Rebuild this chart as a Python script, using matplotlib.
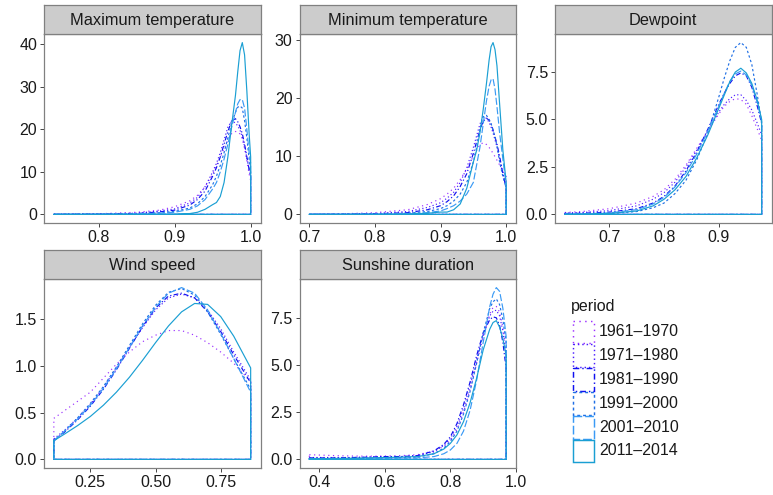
import matplotlib
matplotlib.use('Agg')
import matplotlib.pyplot as plt
from matplotlib.patches import Rectangle

plt.rcParams['font.family'] = ['Liberation Sans', 'DejaVu Sans']

# --- DATA (density curves) ---
periods = ['1961\u20131970', '1971\u20131980', '1981\u20131990',
           '1991\u20132000', '2001\u20132010', '2011\u20132014']

maxt_x = [0.741, 0.80, 0.85, 0.88, 0.90, 0.92, 0.93, 0.94, 0.95, 0.955, 0.96,
          0.965, 0.97, 0.975, 0.98, 0.983, 0.986, 0.989, 0.992, 0.995, 0.998, 1.0]
maxt_1961 = [0.05, 0.15, 0.5, 1.0, 1.8, 3.2, 4.5, 6.5, 9.5, 11.5, 13.5, 15.5, 17.5, 19.0, 19.5, 19.4, 18.9, 17.8, 15.5, 12.5, 9.5, 8.0]
maxt_1971 = [0.02, 0.1, 0.3, 0.8, 1.3, 2.7, 4.0, 6.5, 10.0, 12.0, 14.5, 17.5, 20.5, 22.0, 21.5, 20.8, 19.8, 18.2, 16.0, 13.3, 10.8, 9.5]
maxt_1981 = [0.01, 0.05, 0.2, 0.6, 1.0, 2.2, 3.5, 5.5, 9.0, 11.0, 13.5, 16.5, 19.5, 22.0, 22.5, 21.8, 20.6, 19.0, 16.5, 13.5, 10.5, 9.0]
maxt_1991 = [0.0, 0.03, 0.15, 0.4, 0.7, 1.5, 2.5, 4.2, 7.0, 9.0, 11.5, 14.5, 18.0, 21.5, 24.0, 25.2, 25.5, 25.0, 22.0, 18.0, 13.0, 10.0]
maxt_2001 = [0.0, 0.02, 0.1, 0.3, 0.5, 1.2, 2.0, 3.5, 6.0, 7.5, 10.0, 13.0, 16.5, 20.5, 24.0, 26.0, 27.0, 27.0, 25.0, 20.0, 14.5, 12.0]
maxt_2011 = [0.0, 0.0, 0.0, 0.02, 0.05, 0.2, 0.5, 1.2, 2.3, 2.8, 4.2, 7.5, 13.5, 21.0, 28.0, 33.5, 38.5, 40.4, 37.5, 29.0, 19.0, 13.5]

mint_x = [0.70, 0.75, 0.80, 0.85, 0.88, 0.90, 0.91, 0.92, 0.93, 0.94, 0.95,
          0.955, 0.96, 0.965, 0.97, 0.974, 0.977, 0.98, 0.983, 0.986, 0.99, 0.995, 1.0]
mint_1961 = [0.02, 0.1, 0.3, 0.8, 1.7, 2.7, 3.5, 4.5, 6.0, 7.8, 10.0, 11.0, 12.0, 12.3, 12.0, 11.5, 11.0, 10.5, 9.9, 9.3, 8.5, 7.5, 6.5]
mint_1971 = [0.01, 0.05, 0.15, 0.5, 1.2, 2.0, 2.8, 3.8, 5.5, 8.0, 11.5, 13.5, 15.5, 16.8, 16.5, 15.8, 15.0, 14.0, 12.8, 11.6, 9.5, 7.0, 5.0]
mint_1981 = [0.0, 0.03, 0.1, 0.3, 0.8, 1.5, 2.2, 3.2, 4.8, 7.0, 10.5, 12.5, 14.5, 16.0, 16.5, 16.2, 15.5, 14.5, 13.3, 12.1, 10.0, 7.0, 4.5]
mint_1991 = [0.0, 0.01, 0.05, 0.2, 0.5, 1.0, 1.5, 2.3, 3.5, 5.5, 9.0, 11.5, 14.5, 16.8, 17.0, 16.3, 15.6, 14.5, 13.3, 11.8, 9.0, 6.5, 4.5]
mint_2001 = [0.0, 0.0, 0.02, 0.1, 0.3, 0.6, 1.0, 1.5, 2.3, 3.5, 5.5, 8.5, 11.5, 15.5, 19.5, 22.0, 23.1, 23.3, 21.5, 18.5, 14.0, 9.5, 5.0]
mint_2011 = [0.0, 0.0, 0.0, 0.05, 0.2, 0.4, 0.4, 0.8, 1.8, 4.5, 9.0, 11.0, 14.0, 18.0, 22.5, 26.5, 28.8, 29.5, 28.3, 25.5, 19.0, 11.0, 5.5]

dew_x = [0.619, 0.65, 0.70, 0.75, 0.78, 0.80, 0.82, 0.84, 0.86, 0.88, 0.90,
         0.91, 0.92, 0.93, 0.94, 0.95, 0.96, 0.97, 0.978]
dew_1961 = [0.1, 0.15, 0.3, 0.6, 0.95, 1.3, 1.85, 2.6, 3.5, 4.4, 5.3, 5.7, 5.95, 6.1, 6.05, 5.8, 5.2, 4.5, 3.9]
dew_1971 = [0.08, 0.1, 0.2, 0.45, 0.8, 1.15, 1.7, 2.5, 3.4, 4.4, 5.4, 5.8, 6.1, 6.3, 6.3, 6.0, 5.5, 4.8, 4.2]
dew_1981 = [0.05, 0.06, 0.12, 0.3, 0.6, 0.95, 1.5, 2.3, 3.3, 4.5, 5.8, 6.4, 6.9, 7.3, 7.45, 7.3, 6.7, 5.7, 4.8]
dew_1991 = [0.0, 0.01, 0.04, 0.15, 0.35, 0.6, 1.1, 1.8, 2.9, 4.3, 6.2, 7.2, 8.1, 8.8, 9.05, 8.8, 7.9, 6.3, 4.8]
dew_2001 = [0.02, 0.03, 0.08, 0.25, 0.55, 0.9, 1.45, 2.2, 3.2, 4.4, 5.7, 6.4, 7.0, 7.4, 7.55, 7.35, 6.8, 5.9, 4.9]
dew_2011 = [0.0, 0.01, 0.05, 0.18, 0.45, 0.8, 1.3, 2.0, 3.0, 4.2, 5.6, 6.3, 7.0, 7.5, 7.7, 7.45, 6.9, 6.0, 5.0]

wind_x = [0.11, 0.15, 0.2, 0.25, 0.3, 0.35, 0.4, 0.45, 0.5, 0.55, 0.6, 0.65,
          0.7, 0.75, 0.8, 0.865]
wind_1961 = [0.44, 0.52, 0.62, 0.72, 0.87, 1.02, 1.15, 1.26, 1.33, 1.38, 1.38, 1.33, 1.25, 1.15, 1.03, 0.83]
wind_1971 = [0.22, 0.31, 0.44, 0.59, 0.77, 0.98, 1.2, 1.41, 1.6, 1.73, 1.77, 1.73, 1.6, 1.4, 1.15, 0.85]
wind_1981 = [0.2, 0.29, 0.42, 0.57, 0.75, 0.96, 1.19, 1.42, 1.62, 1.75, 1.78, 1.73, 1.58, 1.37, 1.12, 0.82]
wind_1991 = [0.2, 0.3, 0.44, 0.6, 0.78, 0.99, 1.22, 1.45, 1.65, 1.79, 1.83, 1.76, 1.58, 1.34, 1.08, 0.75]
wind_2001 = [0.2, 0.3, 0.43, 0.58, 0.76, 0.97, 1.2, 1.43, 1.63, 1.78, 1.84, 1.78, 1.6, 1.35, 1.08, 0.72]
wind_2011 = [0.2, 0.27, 0.36, 0.46, 0.58, 0.72, 0.88, 1.06, 1.25, 1.43, 1.58, 1.67, 1.66, 1.53, 1.32, 0.98]

sun_x = [0.37, 0.45, 0.5, 0.55, 0.6, 0.65, 0.7, 0.75, 0.78, 0.8, 0.82, 0.84,
         0.86, 0.88, 0.9, 0.92, 0.93, 0.94, 0.95, 0.96, 0.97]
sun_1961 = [0.25, 0.2, 0.18, 0.17, 0.18, 0.2, 0.25, 0.45, 0.7, 1.0, 1.6, 2.5, 3.7, 5.1, 6.5, 7.7, 8.05, 8.1, 7.8, 7.0, 5.8]
sun_1971 = [0.1, 0.1, 0.1, 0.12, 0.15, 0.15, 0.2, 0.4, 0.75, 1.1, 1.75, 2.7, 3.9, 5.3, 6.6, 7.6, 7.85, 7.9, 7.6, 6.8, 5.5]
sun_1981 = [0.08, 0.08, 0.1, 0.12, 0.15, 0.15, 0.2, 0.45, 0.8, 1.2, 1.9, 2.9, 4.1, 5.5, 6.7, 7.4, 7.55, 7.5, 7.1, 6.2, 4.8]
sun_1991 = [0.05, 0.05, 0.06, 0.07, 0.1, 0.1, 0.12, 0.3, 0.6, 0.95, 1.5, 2.4, 3.6, 5.1, 6.7, 8.0, 8.35, 8.5, 8.2, 7.4, 6.2]
sun_2001 = [0.02, 0.03, 0.04, 0.05, 0.06, 0.07, 0.08, 0.15, 0.3, 0.5, 0.85, 1.5, 2.6, 4.2, 6.2, 8.1, 8.75, 9.1, 8.9, 8.0, 6.5]
sun_2011 = [0.03, 0.05, 0.06, 0.08, 0.1, 0.12, 0.15, 0.3, 0.55, 0.85, 1.3, 2.0, 3.0, 4.3, 5.8, 6.9, 7.25, 7.35, 7.0, 6.4, 5.5]

# tick values / labels per panel
maxt_xt, maxt_xl = [0.8, 0.9, 1.0], ['0.8', '0.9', '1.0']
maxt_yt, maxt_yl = [0, 10, 20, 30, 40], ['0', '10', '20', '30', '40']
mint_xt, mint_xl = [0.7, 0.8, 0.9, 1.0], ['0.7', '0.8', '0.9', '1.0']
mint_yt, mint_yl = [0, 10, 20, 30], ['0', '10', '20', '30']
dew_xt, dew_xl = [0.7, 0.8, 0.9], ['0.7', '0.8', '0.9']
dew_yt, dew_yl = [0, 2.5, 5, 7.5], ['0.0', '2.5', '5.0', '7.5']
wind_xt, wind_xl = [0.25, 0.5, 0.75], ['0.25', '0.50', '0.75']
wind_yt, wind_yl = [0, 0.5, 1.0, 1.5], ['0.0', '0.5', '1.0', '1.5']
sun_xt, sun_xl = [0.4, 0.6, 0.8, 1.0], ['0.4', '0.6', '0.8', '1.0']
sun_yt, sun_yl = [0, 2.5, 5, 7.5], ['0.0', '2.5', '5.0', '7.5']

# --- STYLE ---
colors = ['#9B30FF', '#4A1CFF', '#1010F0', '#1F6FE5', '#3A9AF5', '#1A9FD3']
styles = [(0, (1, 3)), (0, (1, 2)), (0, (4, 2, 1, 2)), (0, (2, 2)), (0, (6, 2)), '-']
LW = 0.85
FS = 11.5

panels = [
    ('Maximum temperature', maxt_x, [maxt_1961, maxt_1971, maxt_1981, maxt_1991, maxt_2001, maxt_2011], maxt_xt, maxt_xl, maxt_yt, maxt_yl),
    ('Minimum temperature', mint_x, [mint_1961, mint_1971, mint_1981, mint_1991, mint_2001, mint_2011], mint_xt, mint_xl, mint_yt, mint_yl),
    ('Dewpoint', dew_x, [dew_1961, dew_1971, dew_1981, dew_1991, dew_2001, dew_2011], dew_xt, dew_xl, dew_yt, dew_yl),
    ('Wind speed', wind_x, [wind_1961, wind_1971, wind_1981, wind_1991, wind_2001, wind_2011], wind_xt, wind_xl, wind_yt, wind_yl),
    ('Sunshine duration', sun_x, [sun_1961, sun_1971, sun_1981, sun_1991, sun_2001, sun_2011], sun_xt, sun_xl, sun_yt, sun_yl),
]

W, H = 773, 495
fig = plt.figure(figsize=(W / 100, H / 100), dpi=100)


def px_axes(left, top, width, height):
    return fig.add_axes([left / W, 1 - (top + height) / H, width / W, height / H])


lefts = [44, 299.5, 555]
tops = [34, 279]
PW, PH, SH = 216.5, 189, 29
BORDER = '#808080'

for i, (title, xs, ys, xt, xl, yt, yl) in enumerate(panels):
    left = lefts[i % 3]
    top = tops[i // 3]
    ax = px_axes(left, top, PW, PH)
    for y, c, ls in zip(ys, colors, styles):
        # closed polygon outline like geom_density
        px = list(xs) + [xs[-1], xs[0], xs[0]]
        py = list(y) + [0, 0, y[0]]
        ax.plot(px, py, color=c, linestyle=ls, linewidth=LW)
    xr = xs[-1] - xs[0]
    ax.set_xlim(xs[0] - 0.05 * xr, xs[-1] + 0.05 * xr)
    ymax = max(max(y) for y in ys)
    ax.set_ylim(-0.05 * ymax, 1.05 * ymax)
    ax.set_xticks(xt)
    ax.set_xticklabels(xl)
    ax.set_yticks(yt)
    ax.set_yticklabels(yl)
    ax.tick_params(direction='out', length=3, width=0.7, color='#444444',
                   labelsize=FS, labelcolor='#1a1a1a', pad=2)
    for s in ax.spines.values():
        s.set_color(BORDER)
        s.set_linewidth(0.9)

    # facet strip
    st = px_axes(left, top - SH, PW, SH)
    st.set_facecolor('#CCCCCC')
    st.set_xticks([])
    st.set_yticks([])
    for s in st.spines.values():
        s.set_color(BORDER)
        s.set_linewidth(0.9)
    st.text(0.5, 0.48, title, ha='center', va='center', fontsize=FS + 0.3,
            color='#1a1a1a', transform=st.transAxes)

# --- LEGEND (drawn in pixel space) ---
lg = fig.add_axes([0, 0, 1, 1])
lg.set_xlim(0, W)
lg.set_ylim(H, 0)
lg.axis('off')
lg.text(571, 307, 'period', ha='left', va='center', fontsize=FS, color='#1a1a1a')
key_top, key_h, key_w = 320, 23.8, 21
for j, (lab, c, ls) in enumerate(zip(periods, colors, styles)):
    y0 = key_top + j * key_h
    lg.add_patch(Rectangle((573, y0 + 0.5), key_w, key_h - 1, fill=False,
                           edgecolor=c, linestyle=ls, linewidth=LW + 0.2))
    lg.text(599, y0 + key_h / 2, lab, ha='left', va='center', fontsize=FS,
            color='#1a1a1a')

fig.savefig('out.png', dpi=100)
